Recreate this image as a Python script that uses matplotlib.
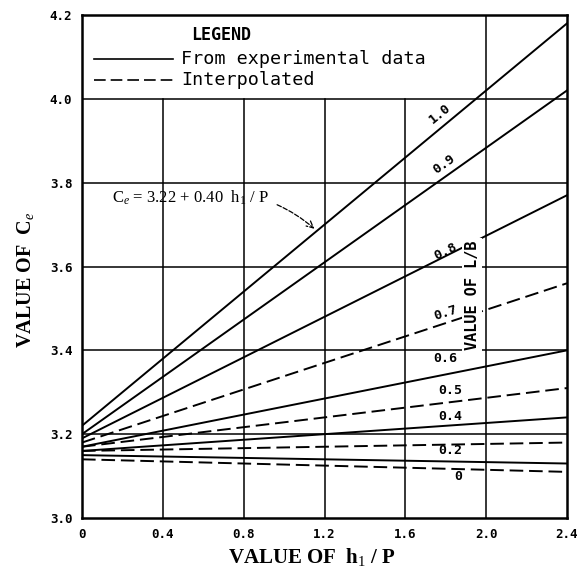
import matplotlib

matplotlib.use("Agg")
import matplotlib.pyplot as plt

plt.rcParams["mathtext.fontset"] = "custom"
plt.rcParams["mathtext.rm"] = "Liberation Serif"
plt.rcParams["mathtext.it"] = "Liberation Serif:italic"

# values of L/B, and C_e read at h1/P = 0 and h1/P = 2.4
lb_values = [1.0, 0.9, 0.8, 0.7, 0.6, 0.5, 0.4, 0.3, 0.2, 0.0]
ce_start = [3.22, 3.20, 3.19, 3.18, 3.17, 3.17, 3.16, 3.16, 3.15, 3.14]
ce_end = [4.18, 4.02, 3.77, 3.56, 3.40, 3.31, 3.24, 3.18, 3.13, 3.11]
interpolated = [False, False, False, True, False, True, False, True, False, True]
h_range = [0.0, 2.4]

xticks = [0, 0.4, 0.8, 1.2, 1.6, 2.0, 2.4]
xtick_labels = ["0", "0.4", "0.8", "1.2", "1.6", "2.0", "2.4"]
yticks = [3.0, 3.2, 3.4, 3.6, 3.8, 4.0, 4.2]

# label text, position and rotation for each curve
curve_labels = {
    1.0: ("1.0", 1.77, 3.965, 39),
    0.9: ("0.9", 1.79, 3.845, 35),
    0.8: ("0.8", 1.80, 3.635, 26),
    0.7: ("0.7", 1.80, 3.49, 18),
    0.6: ("0.6", 1.80, 3.38, 0),
    0.5: ("0.5", 1.82, 3.305, 0),
    0.4: ("0.4", 1.82, 3.243, 0),
    0.2: ("0.2", 1.82, 3.16, 0),
    0.0: ("0", 1.86, 3.10, 0),
}

mono = "DejaVu Sans Mono"
serif = "Liberation Serif"

fig = plt.figure(figsize=(5.78, 5.71), dpi=100)
ax = fig.add_axes([82 / 578, 1 - 518 / 571, 485 / 578, 503 / 571])
ax.set_xlim(0, 2.4)
ax.set_ylim(3.0, 4.2)

# grid, left blank behind the legend box
for yv in yticks[1:-1]:
    ax.plot([0, 2.4], [yv, yv], color="black", lw=1.1, zorder=1)
for xv in xticks[1:-1]:
    top = 4.0 if xv < 2.0 else 4.2
    ax.plot([xv, xv], [3.0, top], color="black", lw=1.1, zorder=1)

for lb, a, b, dashed in zip(lb_values, ce_start, ce_end, interpolated):
    ls = (0, (7, 3)) if dashed else "-"
    ax.plot(h_range, [a, b], color="black", lw=1.4, linestyle=ls, zorder=2)
    if lb in curve_labels:
        txt, tx, ty, rot = curve_labels[lb]
        ax.text(tx, ty, txt, fontsize=9.5, family=mono, fontweight="bold",
                rotation=rot, ha="center", va="center", zorder=3)

ax.text(1.93, 3.532, "VALUE OF L/B", rotation=90, fontsize=11, family=mono,
        fontweight="bold", ha="center", va="center", zorder=4,
        bbox=dict(facecolor="white", edgecolor="none", pad=1.5))

# legend
ax.text(0.54, 4.153, "LEGEND", fontsize=12, family=mono, fontweight="bold",
        ha="left", va="center")
ax.plot([0.06, 0.45], [4.095, 4.095], color="black", lw=1.2)
ax.plot([0.06, 0.45], [4.045, 4.045], color="black", lw=1.2, linestyle=(0, (7, 3)))
ax.text(0.49, 4.095, "From experimental data", fontsize=13.2, family=mono,
        ha="left", va="center")
ax.text(0.49, 4.045, "Interpolated", fontsize=13.2, family=mono,
        ha="left", va="center")

ax.annotate(r"C$_e$ = 3.22 + 0.40  h$_1$ / P", xy=(1.15, 3.69), xytext=(0.15, 3.765),
            fontsize=12, family=serif, ha="left", va="center",
            arrowprops=dict(arrowstyle="->", color="black", lw=0.9, linestyle="--",
                            connectionstyle="arc3,rad=-0.25", shrinkA=4, shrinkB=0))

ax.set_xticks(xticks)
ax.set_xticklabels(xtick_labels)
ax.set_yticks(yticks)
ax.tick_params(length=0, pad=7)
for lab in ax.get_xticklabels() + ax.get_yticklabels():
    lab.set_family(mono)
    lab.set_fontweight("bold")
    lab.set_fontsize(9)

for sp in ax.spines.values():
    sp.set_linewidth(1.8)

ax.set_xlabel(r"VALUE OF  h$_1$ / P", fontsize=15, family=serif, fontweight="bold")
ax.xaxis.set_label_coords(0.474, -0.056)
ax.set_ylabel(r"VALUE OF  C$_e$", fontsize=14.5, family=serif, fontweight="bold")
ax.yaxis.set_label_coords(-0.095, 0.473)

fig.savefig("out.png", dpi=100)
